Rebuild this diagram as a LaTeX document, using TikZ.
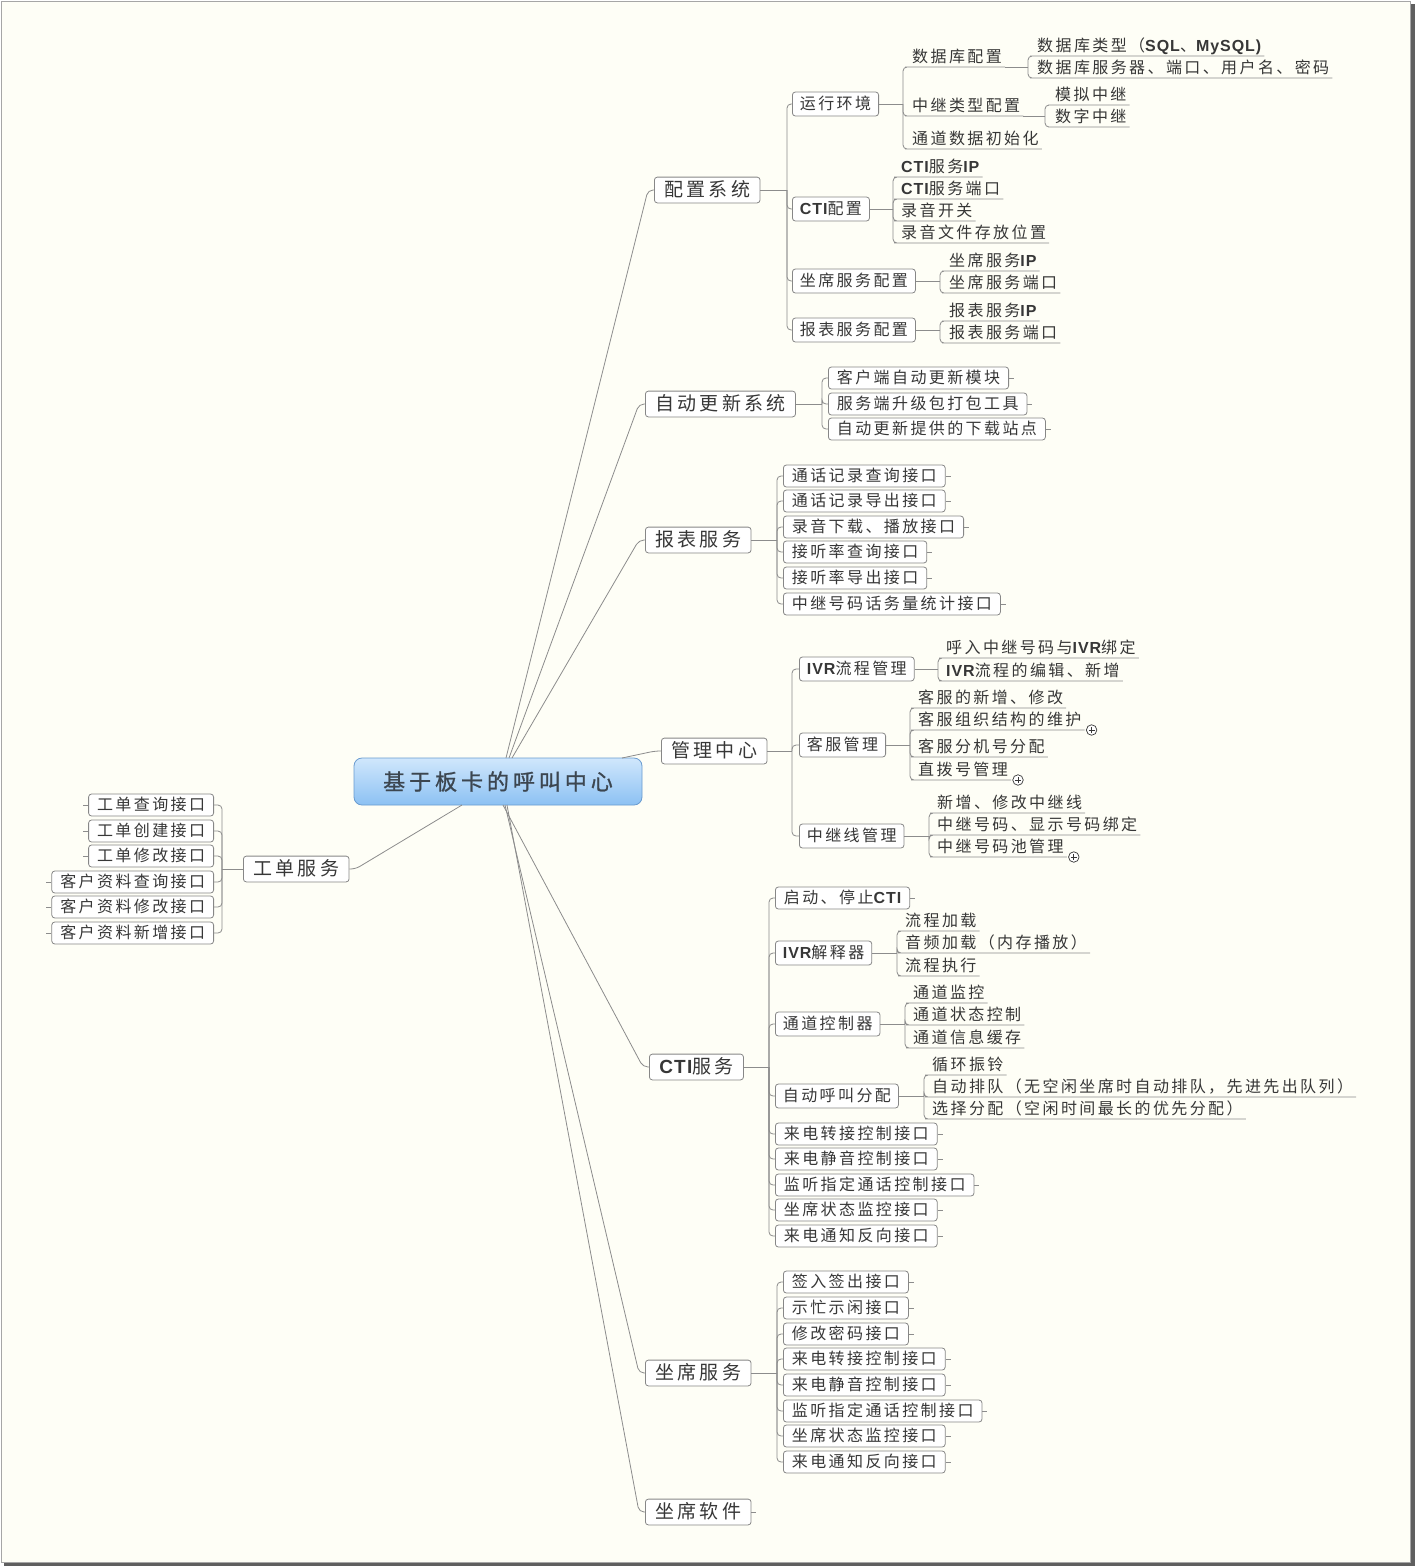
\documentclass[tikz,border=0pt]{standalone}
\usepackage{fontspec}
\newfontfamily\cjk[LetterSpace=15]{Noto Sans CJK SC}
\newfontfamily\cjkbig[LetterSpace=17]{Noto Sans CJK SC}
\newfontfamily\cjkroot[LetterSpace=18,FakeBold=1]{Noto Sans CJK SC}
\newfontfamily\latf[LetterSpace=6]{Liberation Sans}
\newcommand\lt[1]{{\latf\bfseries #1}}
\usetikzlibrary{calc}
\definecolor{bg}{RGB}{254,254,246}
\definecolor{txt}{RGB}{55,55,55}
\definecolor{lin}{RGB}{140,140,140}
\definecolor{bord}{RGB}{135,135,135}
\definecolor{rootb}{RGB}{105,155,208}
\definecolor{roottop}{RGB}{208,231,252}
\definecolor{rootbot}{RGB}{140,193,243}
\definecolor{roottxt}{RGB}{60,70,80}
\definecolor{shad}{RGB}{95,95,95}
\newcommand\fsmall{\cjk\fontsize{16}{19}\selectfont}
\newcommand\fbig{\cjkbig\fontsize{19}{23}\selectfont}
\newcommand\froot{\cjkroot\fontsize{22}{26}\selectfont}
\tikzset{
 lf/.style={draw=bord, fill=white, rounded corners=3pt, line width=0.8pt, font=\fsmall, text=txt, inner xsep=8.5pt, inner ysep=3.5pt, text height=13.2pt, text depth=1.8pt, anchor=west},
 lvtwo/.style={lf, inner xsep=7.5pt, inner ysep=4.5pt},
 lvone/.style={lf, font=\fbig, inner xsep=10pt, inner ysep=4pt, text height=15.7pt, text depth=2.1pt},
 ulx/.style={font=\fsmall, text=txt, inner xsep=3pt, inner ysep=2.5pt, text height=13.2pt, text depth=1.8pt, anchor=south west},
 conn/.style={draw=lin, line width=0.8pt, rounded corners=4pt},
 stub/.style={draw=lin, line width=0.8pt},
 plus/.style={circle, draw=txt, fill=white, line width=0.7pt, minimum size=10.5pt, inner sep=0pt,
   path picture={\draw[txt, line width=0.9pt] ([xshift=2.3pt]path picture bounding box.west) -- ([xshift=-2.3pt]path picture bounding box.east) ([yshift=-2.3pt]path picture bounding box.north) -- ([yshift=2.3pt]path picture bounding box.south);}},
}
\begin{document}
\begin{tikzpicture}[x=1pt,y=-1pt]
\useasboundingbox (0,0) rectangle (1416,1567);
\fill[white] (0,0) rectangle (1416,1567);
\fill[bg] (1,1) rectangle (1410,1562);
\draw[gray!70, line width=1pt] (1,1) rectangle (1410,1562);
\fill[shad] (1410.5,4) rectangle (1415,1566);
\fill[shad] (4,1562.5) rectangle (1415,1566);

% root
\node (R) [rounded corners=8pt, draw=rootb, line width=0.8pt, top color=roottop, bottom color=rootbot, minimum width=288pt, minimum height=47pt, font=\froot, text=roottxt, inner sep=0pt] at (498,781.5) {基于板卡的呼叫中心};

% level one
\node[lvone] (A1) at (654,190) {配置系统};
\node[lvone] (A2) at (645,404) {自动更新系统};
\node[lvone] (A3) at (645,540) {报表服务};
\node[lvone] (A4) at (661,751) {管理中心};
\node[lvone] (A5) at (649,1067) {\lt{CTI}服务};
\node[lvone] (A6) at (645,1373) {坐席服务};
\node[lvone] (A7) at (645,1512) {坐席软件};
\node[lvone] (A8) at (243,869) {工单服务};
\draw[stub] (A7.east) -- ++(5,0);

% root connectors
\coordinate (o1) at (506,758);
\coordinate (o2) at (509,758);
\coordinate (o3) at (512,758);
\coordinate (o4) at (622,758);
\coordinate (o5) at (503,805);
\coordinate (o6) at (505,805);
\coordinate (o7) at (507,805);
\coordinate (o8) at (462,805);
\foreach \o/\a in {o1/A1,o2/A2,o3/A3,o4/A4,o5/A5,o6/A6,o7/A7}{
  \draw[conn, rounded corners=5pt] (\o) -- ($(\a.west)+(-6,0)$) -- (\a.west);
}
\draw[conn, rounded corners=5pt] (o8) -- ($(A8.east)+(6,0)$) -- (A8.east);

% ---------- 配置系统
\coordinate (tA1) at (787,190);
\draw[conn] (A1.east) -- (tA1);
\node[lvtwo] (B1) at (792,104) {运行环境};
\node[lvtwo] (B2) at (792,209) {\lt{CTI}配置};
\node[lvtwo] (B3) at (792,281) {坐席服务配置};
\node[lvtwo] (B4) at (792,330) {报表服务配置};
\foreach \b in {B1,B2,B3,B4}{\draw[conn] (tA1) |- (\b.west);}

% 运行环境
\coordinate (tB1) at (903,104);
\draw[conn] (B1.east) -- (tB1);
\node[ulx] (C1) at (909,67) {数据库配置};
\node[ulx] (C2) at (909,116) {中继类型配置};
\node[ulx] (C3) at (909,149) {通道数据初始化};
\foreach \c in {C1,C2,C3}{\draw[conn] (tB1) |- (\c.south west) -- (\c.south east);}
\coordinate (tC1) at (1028,67);
\draw[conn] (C1.south east) -- (tC1);
\node[ulx] (D1) at (1034,56) {数据库类型（\lt{SQL}、\lt{MySQL)}};
\node[ulx] (D2) at (1034,78) {数据库服务器、端口、用户名、密码};
\foreach \c in {D1,D2}{\draw[conn] (tC1) |- (\c.south west) -- (\c.south east);}
\coordinate (tC2) at (1045,116);
\draw[conn] (C2.south east) -- (tC2);
\node[ulx] (D3) at (1052,105) {模拟中继};
\node[ulx] (D4) at (1052,127) {数字中继};
\foreach \c in {D3,D4}{\draw[conn] (tC2) |- (\c.south west) -- (\c.south east);}

% CTI配置
\coordinate (tB2) at (893,209);
\draw[conn] (B2.east) -- (tB2);
\node[ulx] (E1) at (898,177) {\lt{CTI}服务\lt{IP}};
\node[ulx] (E2) at (898,199) {\lt{CTI}服务端口};
\node[ulx] (E3) at (898,221) {录音开关};
\node[ulx] (E4) at (898,243) {录音文件存放位置};
\foreach \c in {E1,E2,E3,E4}{\draw[conn] (tB2) |- (\c.south west) -- (\c.south east);}

% 坐席服务配置 / 报表服务配置
\coordinate (tB3) at (940,281);
\draw[conn] (B3.east) -- (tB3);
\node[ulx] (F1) at (946,271) {坐席服务\lt{IP}};
\node[ulx] (F2) at (946,293) {坐席服务端口};
\foreach \c in {F1,F2}{\draw[conn] (tB3) |- (\c.south west) -- (\c.south east);}
\coordinate (tB4) at (940,330);
\draw[conn] (B4.east) -- (tB4);
\node[ulx] (F3) at (946,321) {报表服务\lt{IP}};
\node[ulx] (F4) at (946,343) {报表服务端口};
\foreach \c in {F3,F4}{\draw[conn] (tB4) |- (\c.south west) -- (\c.south east);}

% ---------- 自动更新系统
\coordinate (tA2) at (822,404);
\draw[conn] (A2.east) -- (tA2);
\foreach \n/\y/\t in {1/378/客户端自动更新模块, 2/404/服务端升级包打包工具, 3/429/自动更新提供的下载站点}{
  \node[lf] (G\n) at (828,\y) {\t};
  \draw[conn] (tA2) |- (G\n.west);
  \draw[stub] (G\n.east) -- ++(5,0);
}

% ---------- 报表服务
\coordinate (tA3) at (777,540);
\draw[conn] (A3.east) -- (tA3);
\foreach \n/\y/\t in {1/476/通话记录查询接口, 2/501/通话记录导出接口, 3/527/录音下载、播放接口, 4/552/接听率查询接口, 5/578/接听率导出接口, 6/604/中继号码话务量统计接口}{
  \node[lf] (H\n) at (783,\y) {\t};
  \draw[conn] (tA3) |- (H\n.west);
  \draw[stub] (H\n.east) -- ++(5,0);
}

% ---------- 管理中心
\coordinate (tA4) at (792,751);
\draw[conn] (A4.east) -- (tA4);
\node[lvtwo] (I1) at (799,669) {\lt{IVR}流程管理};
\node[lvtwo] (I2) at (799,745) {客服管理};
\node[lvtwo] (I3) at (799,836) {中继线管理};
\foreach \b in {I1,I2,I3}{\draw[conn] (tA4) |- (\b.west);}
\coordinate (tI1) at (938,669);
\draw[conn] (I1.east) -- (tI1);
\node[ulx] (J1) at (943,658) {呼入中继号码与\lt{IVR}绑定};
\node[ulx] (J2) at (943,681) {\lt{IVR}流程的编辑、新增};
\foreach \c in {J1,J2}{\draw[conn] (tI1) |- (\c.south west) -- (\c.south east);}
\coordinate (tI2) at (910,745);
\draw[conn] (I2.east) -- (tI2);
\node[ulx] (K1) at (915,708) {客服的新增、修改};
\node[ulx] (K2) at (915,730) {客服组织结构的维护};
\node[ulx] (K3) at (915,757) {客服分机号分配};
\node[ulx] (K4) at (915,780) {直拨号管理};
\foreach \c in {K1,K2,K3,K4}{\draw[conn] (tI2) |- (\c.south west) -- (\c.south east);}
\node[plus] (P1) at ($(K2.south east)+(7,0)$) {};
\node[plus] (P2) at ($(K4.south east)+(7,0)$) {};
\coordinate (tI3) at (929,836);
\draw[conn] (I3.east) -- (tI3);
\node[ulx] (L1) at (934,813) {新增、修改中继线};
\node[ulx] (L2) at (934,835) {中继号码、显示号码绑定};
\node[ulx] (L3) at (934,857) {中继号码池管理};
\foreach \c in {L1,L2,L3}{\draw[conn] (tI3) |- (\c.south west) -- (\c.south east);}
\node[plus] (P3) at ($(L3.south east)+(7,0)$) {};

% ---------- CTI服务
\coordinate (tA5) at (769,1067);
\draw[conn] (A5.east) -- (tA5);
\node[lf] (M1) at (775,898) {启动、停止\lt{CTI}};
\node[lvtwo] (M2) at (775,953) {\lt{IVR}解释器};
\node[lvtwo] (M3) at (775,1024) {通道控制器};
\node[lvtwo] (M4) at (775,1096) {自动呼叫分配};
\draw[stub] (M1.east) -- ++(5,0);
\foreach \b in {M1,M2,M3,M4}{\draw[conn] (tA5) |- (\b.west);}
\foreach \n/\y/\t in {5/1134/来电转接控制接口, 6/1159/来电静音控制接口, 7/1185/监听指定通话控制接口, 8/1210/坐席状态监控接口, 9/1236/来电通知反向接口}{
  \node[lf] (M\n) at (775,\y) {\t};
  \draw[conn] (tA5) |- (M\n.west);
  \draw[stub] (M\n.east) -- ++(5,0);
}
\coordinate (tM2) at (897,953);
\draw[conn] (M2.east) -- (tM2);
\node[ulx] (N1) at (902,931) {流程加载};
\node[ulx] (N2) at (902,953) {音频加载（内存播放）};
\node[ulx] (N3) at (902,976) {流程执行};
\foreach \c in {N1,N2,N3}{\draw[conn] (tM2) |- (\c.south west) -- (\c.south east);}
\coordinate (tM3) at (905,1024);
\draw[conn] (M3.east) -- (tM3);
\node[ulx] (N4) at (910,1003) {通道监控};
\node[ulx] (N5) at (910,1025) {通道状态控制};
\node[ulx] (N6) at (910,1048) {通道信息缓存};
\foreach \c in {N4,N5,N6}{\draw[conn] (tM3) |- (\c.south west) -- (\c.south east);}
\coordinate (tM4) at (924,1096);
\draw[conn] (M4.east) -- (tM4);
\node[ulx] (N7) at (929,1075) {循环振铃};
\node[ulx] (N8) at (929,1097) {自动排队（无空闲坐席时自动排队，先进先出队列）};
\node[ulx] (N9) at (929,1119) {选择分配（空闲时间最长的优先分配）};
\foreach \c in {N7,N8,N9}{\draw[conn] (tM4) |- (\c.south west) -- (\c.south east);}

% ---------- 坐席服务
\coordinate (tA6) at (777,1373);
\draw[conn] (A6.east) -- (tA6);
\foreach \n/\y/\t in {1/1282/签入签出接口, 2/1308/示忙示闲接口, 3/1334/修改密码接口, 4/1359/来电转接控制接口, 5/1385/来电静音控制接口, 6/1411/监听指定通话控制接口, 7/1436/坐席状态监控接口, 8/1462/来电通知反向接口}{
  \node[lf] (O\n) at (783,\y) {\t};
  \draw[conn] (tA6) |- (O\n.west);
  \draw[stub] (O\n.east) -- ++(5,0);
}

% ---------- 工单服务
\coordinate (tA8) at (222,869);
\draw[conn] (A8.west) -- (tA8);
\foreach \n/\y/\t in {1/805/工单查询接口, 2/831/工单创建接口, 3/856/工单修改接口, 4/882/客户资料查询接口, 5/907/客户资料修改接口, 6/933/客户资料新增接口}{
  \node[lf, anchor=east] (Q\n) at (214,\y) {\t};
  \draw[conn] (tA8) |- (Q\n.east);
  \draw[stub] (Q\n.west) -- ++(-5,0);
}
\end{tikzpicture}
\end{document}
